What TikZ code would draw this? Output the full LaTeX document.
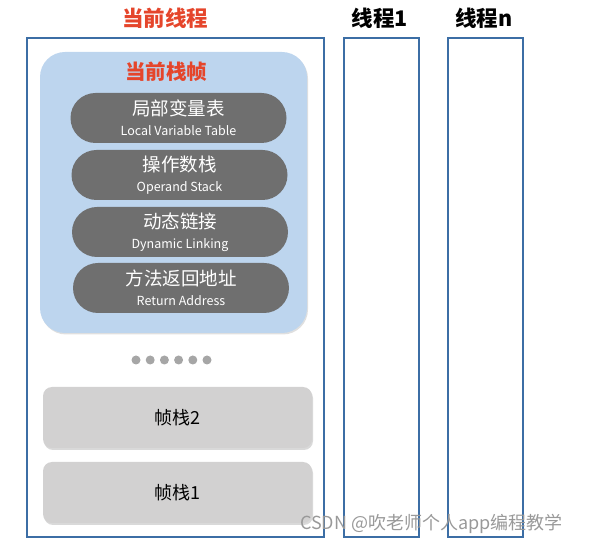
\documentclass[tikz,border=0pt]{standalone}
\usepackage{fontspec}
\setmainfont{Noto Sans CJK SC}
\usetikzlibrary{shadows}
\definecolor{threadblue}{HTML}{3C6EA5}
\definecolor{frameblue}{HTML}{BDD5EE}
\definecolor{slotgray}{HTML}{6F6F6F}
\definecolor{stackgray}{HTML}{D2D1D1}
\definecolor{dotgray}{HTML}{A6A6A6}
\definecolor{titlered}{HTML}{E5452B}
\newcommand{\slottext}[2]{{\fontsize{18.5}{20}\selectfont #1}\\#2}

\begin{document}
\begin{tikzpicture}[x=1pt,y=-1pt,
  threadbox/.style={draw=threadblue, line width=1.4pt, inner sep=0pt},
  threadtitle/.style={font=\bfseries\fontsize{21.5}{24}\selectfont, inner sep=0pt},
  framebox/.style={fill=frameblue, rounded corners=25pt, inner sep=0pt,
    drop shadow={opacity=0.25, shadow xshift=1pt, shadow yshift=-1.5pt}},
  slot/.style={fill=slotgray, text=white, rounded corners=25pt, inner sep=0pt,
    minimum width=216pt, minimum height=50pt, align=center,
    font=\fontsize{12.5}{20}\selectfont},
  stackbox/.style={fill=stackgray, rounded corners=9pt, inner sep=0pt,
    minimum width=269pt, minimum height=61pt, font=\fontsize{18}{20}\selectfont,
    drop shadow={opacity=0.3, shadow xshift=1pt, shadow yshift=-2pt}}]
\useasboundingbox (0,0) rectangle (598,545);
% threads
\node[threadbox, minimum width=297pt, minimum height=499pt] (curthread) at (175.5,287.5) {};
\node[threadbox, minimum width=75pt, minimum height=499pt] (thread1) at (381.5,287.5) {};
\node[threadbox, minimum width=75pt, minimum height=499pt] (threadn) at (485.5,287.5) {};
\node[threadtitle, text=titlered] (curtitle) at (165,18) {当前线程};
\node[threadtitle] (title1) at (380,18) {线程1};
\node[threadtitle] (titlen) at (484,18) {线程n};
% current frame
\node[framebox, minimum width=267pt, minimum height=281pt] (curframe) at (173.5,192.5) {};
\node[font=\bfseries\fontsize{20.5}{23}\selectfont, text=titlered, inner sep=0pt] (frametitle) at (166,72) {当前栈帧};
\node[slot] (localvars) at (178.5,118) {\slottext{局部变量表}{Local Variable Table}};
\node[slot] (operands) at (179.5,175) {\slottext{操作数栈}{Operand Stack}};
\node[slot] (dynlink) at (180,232) {\slottext{动态链接}{Dynamic Linking}};
\node[slot] (retaddr) at (181,288) {\slottext{方法返回地址}{Return Address}};
% other frames
\foreach \i in {0,...,5}
  \fill[dotgray] (136+14.2*\i,360) circle (4.5pt);
\node[stackbox] (stack2) at (177.5,417.5) {帧栈2};
\node[stackbox] (stack1) at (177.5,492.5) {帧栈1};
% watermark
\node[anchor=west, text=gray!80, font=\fontsize{18}{20}\selectfont, inner sep=0pt] (mark) at (300,524) {CSDN @吹老师个人app编程教学};
\end{tikzpicture}
\end{document}
